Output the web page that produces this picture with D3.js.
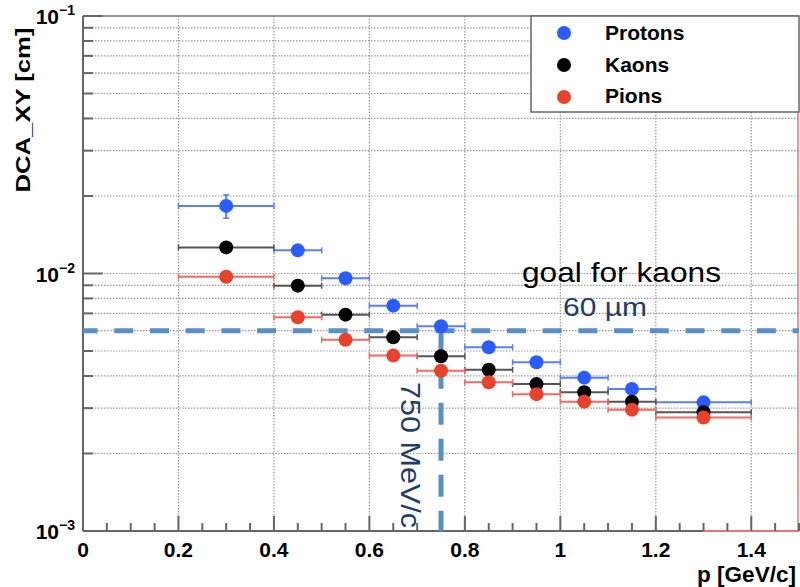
<!DOCTYPE html>
<html>
<head>
<meta charset="utf-8">
<script src="https://cdn.jsdelivr.net/npm/d3@7"></script>
<style>
  body { margin: 0; background: #fff; }
  svg { display: block; font-family: "Liberation Sans", Arial, sans-serif; }
</style>
</head>
<body>
<svg id="chart" width="800" height="587"></svg>
<script>
// bins (p centre, half width) in GeV/c
const pCenters = [0.3, 0.45, 0.55, 0.65, 0.75, 0.85, 0.95, 1.05, 1.15, 1.3];
const pHalfWidth = [0.1, 0.05, 0.05, 0.05, 0.05, 0.05, 0.05, 0.05, 0.05, 0.1];
// DCA_XY in cm
const protons = [0.0183, 0.0123, 0.00958, 0.0075, 0.00624, 0.00517, 0.00452, 0.00394, 0.00356, 0.00316];
const kaons   = [0.01263, 0.00897, 0.00692, 0.00565, 0.00477, 0.00423, 0.00372, 0.00346, 0.00318, 0.00289];
const pions   = [0.00972, 0.00676, 0.00553, 0.0048, 0.00419, 0.00378, 0.0034, 0.00318, 0.00296, 0.00276];
const protonErr = [0.0019, 0.0002, 0.0001, 0.0001, 0.0001, 0.0001, 0.0001, 0.0001, 0.0001, 0.0001];
const xTicks = [0, 0.2, 0.4, 0.6, 0.8, 1, 1.2, 1.4];
const yMajor = [1e-3, 1e-2, 1e-1];
const goalDCA = 0.006;
const goalP = 0.75;

const series = [
  { name: "Protons", values: protons, err: protonErr, color: "#2b5cff", bar: "#5b7dff" },
  { name: "Kaons", values: kaons, err: null, color: "#000000", bar: "#555555" },
  { name: "Pions", values: pions, err: null, color: "#e8412c", bar: "#f26a64" }
];

const svg = d3.select("#chart");
const mLeft = 83, mRight = 799, mTop = 16, mBottom = 531;

const x = d3.scaleLinear().domain([0, 1.5]).range([mLeft, mRight]);
const y = d3.scaleLog().domain([1e-3, 1e-1]).range([mBottom, mTop]);

// minor log ticks
const yMinor = [];
[1e-3, 1e-2].forEach(d => { for (let k = 2; k <= 9; k++) yMinor.push(d * k); });

const grid = svg.append("g");
grid.selectAll("line.gy")
  .data(yMinor.concat([1e-2]))
  .enter().append("line")
  .attr("x1", mLeft).attr("x2", mRight)
  .attr("y1", d => y(d)).attr("y2", d => y(d))
  .attr("stroke", "#999").attr("stroke-width", 1.2)
  .attr("stroke-dasharray", "1.5,1.5");
grid.selectAll("line.gx")
  .data(xTicks.filter(d => d > 0))
  .enter().append("line")
  .attr("x1", d => x(d)).attr("x2", d => x(d))
  .attr("y1", mTop).attr("y2", mBottom)
  .attr("stroke", "#999").attr("stroke-width", 1.2)
  .attr("stroke-dasharray", "1.5,1.5");

// frame
svg.append("line").attr("x1", mLeft).attr("x2", mRight).attr("y1", mTop).attr("y2", mTop)
  .attr("stroke", "#777").attr("stroke-width", 1.5);
svg.append("line").attr("x1", mLeft).attr("x2", mLeft).attr("y1", mTop).attr("y2", mBottom)
  .attr("stroke", "#666").attr("stroke-width", 2);
svg.append("line").attr("x1", mLeft).attr("x2", x(1.3)).attr("y1", mBottom).attr("y2", mBottom)
  .attr("stroke", "#666").attr("stroke-width", 2);
svg.append("line").attr("x1", x(1.3)).attr("x2", mRight).attr("y1", mBottom).attr("y2", mBottom)
  .attr("stroke", "#f0707a").attr("stroke-width", 2);
svg.append("line").attr("x1", mRight - 1).attr("x2", mRight - 1).attr("y1", 113).attr("y2", mBottom)
  .attr("stroke", "#f0707a").attr("stroke-width", 1.5);

// y ticks (inward)
const ticks = svg.append("g").attr("stroke", "#666").attr("stroke-width", 2);
ticks.selectAll("line.ym").data(yMajor).enter().append("line")
  .attr("x1", mLeft).attr("x2", mLeft + 20).attr("y1", d => y(d)).attr("y2", d => y(d));
ticks.selectAll("line.yn").data(yMinor).enter().append("line")
  .attr("x1", mLeft).attr("x2", mLeft + 10).attr("y1", d => y(d)).attr("y2", d => y(d));
// x ticks
const xMinor = d3.range(0, 1.5001, 0.05);
ticks.selectAll("line.xn").data(xMinor).enter().append("line")
  .attr("x1", d => x(d)).attr("x2", d => x(d))
  .attr("y1", mBottom).attr("y2", d => Math.abs(d / 0.2 - Math.round(d / 0.2)) < 1e-6 ? mBottom - 15 : mBottom - 8);

// x tick labels
svg.append("g").selectAll("text").data(xTicks).enter().append("text")
  .attr("x", d => x(d)).attr("y", 557)
  .attr("text-anchor", "middle")
  .attr("font-size", 21).attr("font-weight", "bold")
  .text(d => d3.format("~g")(d));

// y tick labels 10^n
const yl = svg.append("g").selectAll("text").data(yMajor).enter().append("text")
  .attr("x", 75).attr("y", d => y(d) + 8)
  .attr("text-anchor", "end")
  .attr("font-size", 21).attr("font-weight", "bold");
yl.append("tspan").text("10");
yl.append("tspan").attr("dy", -9).attr("font-size", 14).text(d => "\u2212" + Math.round(-Math.log10(d)));

// axis titles
svg.append("text")
  .attr("transform", "translate(30,110) rotate(-90)")
  .attr("text-anchor", "middle")
  .attr("font-size", 21).attr("font-weight", "bold")
  .attr("textLength", 165).attr("lengthAdjust", "spacingAndGlyphs")
  .text("DCA_XY [cm]");
svg.append("text")
  .attr("x", 796).attr("y", 582)
  .attr("text-anchor", "end")
  .attr("font-size", 22).attr("font-weight", "bold")
  .attr("textLength", 99).attr("lengthAdjust", "spacingAndGlyphs")
  .text("p [GeV/c]");

// goal lines
svg.append("line")
  .attr("x1", x(0)).attr("x2", x(1.5))
  .attr("y1", y(goalDCA)).attr("y2", y(goalDCA))
  .attr("stroke", "#5a8fc6").attr("stroke-width", 5)
  .attr("stroke-dasharray", "19,16.7").attr("stroke-dashoffset", 4.4);
svg.append("line")
  .attr("x1", x(goalP)).attr("x2", x(goalP))
  .attr("y1", y(goalDCA)).attr("y2", mBottom)
  .attr("stroke", "#5a8fc6").attr("stroke-width", 5)
  .attr("stroke-dasharray", "22,14");

// data
series.forEach(s => {
  const g = svg.append("g");
  const rows = pCenters.map((p, i) => ({ p, hw: pHalfWidth[i], v: s.values[i], e: s.err ? s.err[i] : 0 }));
  g.selectAll("line.h").data(rows).enter().append("line")
    .attr("x1", d => x(d.p - d.hw)).attr("x2", d => x(d.p + d.hw))
    .attr("y1", d => y(d.v)).attr("y2", d => y(d.v))
    .attr("stroke", s.bar).attr("stroke-width", 2);
  g.selectAll("line.c1").data(rows).enter().append("line")
    .attr("x1", d => x(d.p - d.hw)).attr("x2", d => x(d.p - d.hw))
    .attr("y1", d => y(d.v) - 3).attr("y2", d => y(d.v) + 3)
    .attr("stroke", s.bar).attr("stroke-width", 1.5);
  g.selectAll("line.c2").data(rows).enter().append("line")
    .attr("x1", d => x(d.p + d.hw)).attr("x2", d => x(d.p + d.hw))
    .attr("y1", d => y(d.v) - 3).attr("y2", d => y(d.v) + 3)
    .attr("stroke", s.bar).attr("stroke-width", 1.5);
  const vErr = rows.filter(d => d.e > 0.0005);
  g.selectAll("line.v").data(vErr).enter().append("line")
    .attr("x1", d => x(d.p)).attr("x2", d => x(d.p))
    .attr("y1", d => y(d.v + d.e)).attr("y2", d => y(d.v - d.e))
    .attr("stroke", s.bar).attr("stroke-width", 2);
  [1, -1].forEach(sg => {
    g.selectAll("line.vc" + sg).data(vErr).enter().append("line")
      .attr("x1", d => x(d.p) - 3).attr("x2", d => x(d.p) + 3)
      .attr("y1", d => y(d.v + sg * d.e)).attr("y2", d => y(d.v + sg * d.e))
      .attr("stroke", s.bar).attr("stroke-width", 1.5);
  });
  g.selectAll("circle").data(rows).enter().append("circle")
    .attr("cx", d => x(d.p)).attr("cy", d => y(d.v))
    .attr("r", 7).attr("fill", s.color);
});

// annotations
svg.append("text")
  .attr("x", 522).attr("y", 282)
  .attr("font-size", 28).attr("fill", "#000")
  .attr("textLength", 199).attr("lengthAdjust", "spacingAndGlyphs")
  .text("goal for kaons");
svg.append("text")
  .attr("x", 563).attr("y", 316)
  .attr("font-size", 26).attr("fill", "#1f3d66")
  .attr("textLength", 84).attr("lengthAdjust", "spacingAndGlyphs")
  .text("60 \u00b5m");
svg.append("text")
  .attr("transform", "translate(401,382) rotate(90)")
  .attr("font-size", 28).attr("fill", "#1f3d66")
  .attr("textLength", 146).attr("lengthAdjust", "spacingAndGlyphs")
  .text("750 MeV/c");

// legend
const lg = svg.append("g");
lg.append("rect")
  .attr("x", 531).attr("y", 16).attr("width", 268).attr("height", 96)
  .attr("fill", "#fff").attr("stroke", "#666").attr("stroke-width", 1.5);
series.forEach((s, i) => {
  lg.append("circle").attr("cx", 564).attr("cy", 33 + i * 32).attr("r", 7).attr("fill", s.color);
  lg.append("text").attr("x", 605).attr("y", 40 + i * 31.5)
    .attr("font-size", 21).attr("font-weight", "bold").text(s.name);
});
</script>
</body>
</html>
